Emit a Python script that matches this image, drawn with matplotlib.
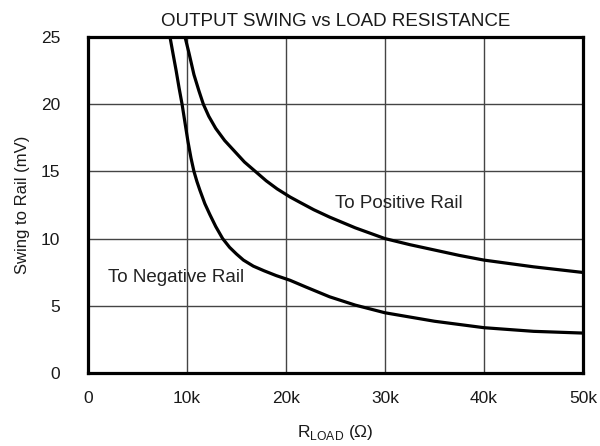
import matplotlib
matplotlib.use('Agg')
import matplotlib.pyplot as plt

plt.rcParams['font.family'] = ['Liberation Sans', 'DejaVu Sans']
plt.rcParams['mathtext.fontset'] = 'custom'
plt.rcParams['mathtext.rm'] = 'Liberation Sans'

# values (R in ohms, swing in mV)
pos_r = [9800, 10200, 10700, 11200, 11650, 12200, 12900, 13800, 14800, 15800,
         16900, 18000, 19100, 20400, 21400, 22800, 24400, 27000, 30000,
         32500, 35000, 37500, 40000, 45000, 50000]
pos_v = [25.0, 23.8, 22.2, 21.0, 20.0, 19.1, 18.2, 17.3, 16.5, 15.7,
         15.0, 14.3, 13.7, 13.1, 12.7, 12.15, 11.6, 10.8, 10.0,
         9.55, 9.15, 8.75, 8.4, 7.9, 7.48]

neg_r = [8280, 8600, 8900, 9200, 9500, 9800, 10100, 10400, 10700, 11000, 11300,
         11800, 12300, 12900, 13600, 14300, 15000, 15700, 16700, 17800,
         19000, 20400, 22000, 24400, 27000, 30000, 35000, 40000, 45000, 50000]
neg_v = [25.0, 23.7, 22.5, 21.2, 20.0, 18.6, 17.2, 16.0, 15.0, 14.25, 13.6,
         12.6, 11.8, 10.9, 10.0, 9.35, 8.85, 8.4, 7.95, 7.6,
         7.25, 6.9, 6.4, 5.67, 5.05, 4.48, 3.85, 3.37, 3.1, 2.97]

xticks = [0, 10000, 20000, 30000, 40000, 50000]
xtick_labels = ['0', '10k', '20k', '30k', '40k', '50k']
yticks = [0, 5, 10, 15, 20, 25]

fig = plt.figure(figsize=(6, 4.46), dpi=100)
ax = fig.add_axes([0.1467, 0.1637, 0.825, 0.7533])

ax.plot(pos_r, pos_v, color='black', lw=2.3)
ax.plot(neg_r, neg_v, color='black', lw=2.3)

ax.set_xlim(0, 50000)
ax.set_ylim(0, 25)
ax.set_xticks(xticks)
ax.set_xticklabels(xtick_labels)
ax.set_yticks(yticks)
ax.tick_params(length=0, labelsize=12.5, pad=13, labelcolor='#1a1a1a')
ax.tick_params(axis='y', pad=20)
ax.grid(True, color='#444444', lw=1.0)
ax.set_axisbelow(True)
for s in ax.spines.values():
    s.set_linewidth(2.3)

ax.text(24900, 12.6, 'To Positive Rail', fontsize=13.5, color='#222222', va='center')
ax.text(2000, 7.1, 'To Negative Rail', fontsize=13.5, color='#222222', va='center')

ax.set_title('OUTPUT SWING vs LOAD RESISTANCE', fontsize=13.5, pad=8, color='#1a1a1a')
ax.set_xlabel(r'R$_{\mathregular{LOAD}}$ ($\Omega$)', fontsize=12.5, labelpad=12,
              color='#1a1a1a')
ax.set_ylabel('Swing to Rail (mV)', fontsize=12, labelpad=8, color='#1a1a1a')

fig.savefig('out.png', dpi=100)
